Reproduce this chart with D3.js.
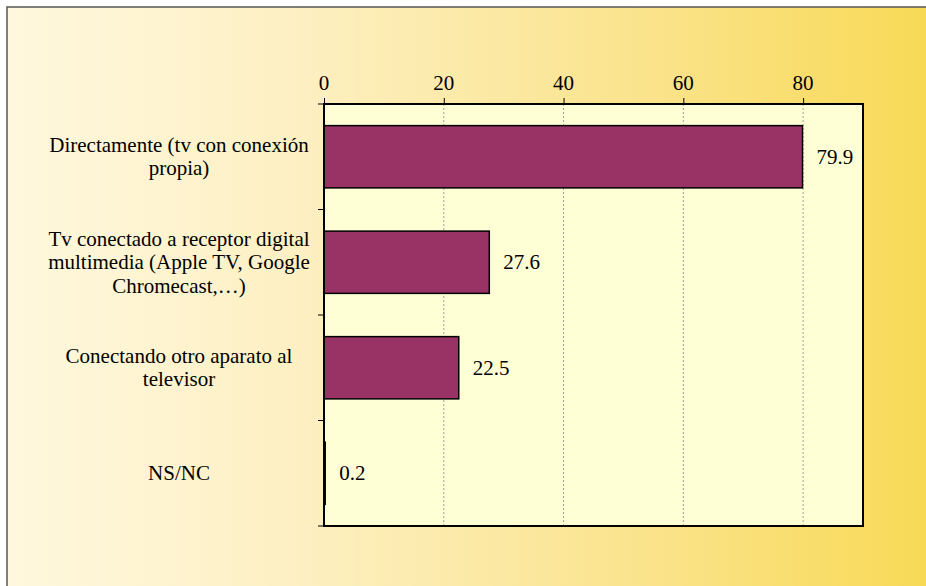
<!DOCTYPE html>
<html>
<head>
<meta charset="utf-8">
<script src="https://cdn.jsdelivr.net/npm/d3@7"></script>
</head>
<body style="margin:0">
<div id="chart"></div>
<script>
// Data
const categories = [
    ["Directamente (tv con conexión", "propia)"],
    ["Tv conectado a receptor digital", "multimedia (Apple TV, Google", "Chromecast,…)"],
    ["Conectando otro aparato al", "televisor"],
    ["NS/NC"]
];
const values = [79.9, 27.6, 22.5, 0.2];
const xTicks = [0, 20, 40, 60, 80];

const W = 926, H = 586;
const plot = { left: 324, top: 104, right: 863, bottom: 526 };
const fontFam = "Liberation Serif";

const svg = d3.select("#chart")
    .append("svg")
    .attr("width", W)
    .attr("height", H)
    .style("font-family", `"${fontFam}"`);

// Background gradient
const defs = svg.append("defs");
const grad = defs.append("linearGradient")
    .attr("id", "bg")
    .attr("x1", "0%").attr("x2", "100%")
    .attr("y1", "0%").attr("y2", "0%");
grad.append("stop").attr("offset", "0%").attr("stop-color", "#fff8de");
grad.append("stop").attr("offset", "30%").attr("stop-color", "#fdf0c4");
grad.append("stop").attr("offset", "70%").attr("stop-color", "#fae38a");
grad.append("stop").attr("offset", "100%").attr("stop-color", "#f8d955");

svg.append("rect")
    .attr("x", 7).attr("y", 7)
    .attr("width", W).attr("height", H)
    .attr("fill", "url(#bg)")
    .attr("stroke", "#555")
    .attr("stroke-width", 1.5);

// Scales
const x = d3.scaleLinear().domain([0, 90]).range([plot.left, plot.right]);
const y = d3.scaleBand()
    .domain(d3.range(values.length))
    .range([plot.top, plot.bottom])
    .paddingInner(0.41)
    .paddingOuter(0.205);

// Plot area
svg.append("rect")
    .attr("x", plot.left).attr("y", plot.top)
    .attr("width", plot.right - plot.left)
    .attr("height", plot.bottom - plot.top)
    .attr("fill", "#ffffd6");

// Gridlines
svg.append("g")
    .selectAll("line")
    .data(xTicks.filter(d => d > 0))
    .enter()
    .append("line")
    .attr("x1", d => x(d)).attr("x2", d => x(d))
    .attr("y1", plot.top).attr("y2", plot.bottom)
    .attr("stroke", "#a0a0a0")
    .attr("stroke-width", 1)
    .attr("stroke-dasharray", "2,2");

// Bars
svg.append("g")
    .selectAll("rect")
    .data(values)
    .enter()
    .append("rect")
    .attr("x", x(0))
    .attr("y", (d, i) => y(i))
    .attr("width", d => x(d) - x(0))
    .attr("height", y.bandwidth())
    .attr("fill", "#993366")
    .attr("stroke", "#000")
    .attr("stroke-width", 1.5);

// Frame
svg.append("rect")
    .attr("x", plot.left).attr("y", plot.top)
    .attr("width", plot.right - plot.left)
    .attr("height", plot.bottom - plot.top)
    .attr("fill", "none")
    .attr("stroke", "#000")
    .attr("stroke-width", 2);

// Top axis (ticks from the axis, labels drawn as plain text)
const xAxis = svg.append("g")
    .attr("transform", `translate(0, ${plot.top})`)
    .call(d3.axisTop(x).tickValues(xTicks).tickSize(6).tickFormat(""));
xAxis.select(".domain").remove();
xAxis.selectAll("line").attr("stroke", "#000");

svg.append("g")
    .selectAll("text")
    .data(xTicks)
    .enter()
    .append("text")
    .attr("x", d => x(d))
    .attr("y", plot.top - 14)
    .attr("text-anchor", "middle")
    .style("font-family", d => `"${fontFam}"`)
    .style("font-size", "21px")
    .text(d => d);

// Left ticks at band boundaries
const step = (plot.bottom - plot.top) / values.length;
svg.append("g")
    .selectAll("line")
    .data(d3.range(values.length + 1))
    .enter()
    .append("line")
    .attr("x1", plot.left - 6).attr("x2", plot.left)
    .attr("y1", d => plot.top + d * step)
    .attr("y2", d => plot.top + d * step)
    .attr("stroke", "#000");

// Category labels, one text per line
const lineH = 23.3;
const catLines = categories.flatMap((lines, i) => lines.map((t, j) => ({
    t, i, j, n: lines.length
})));
svg.append("g")
    .selectAll("text")
    .data(catLines)
    .enter()
    .append("text")
    .attr("x", 179)
    .attr("y", d => y(d.i) + y.bandwidth() / 2 - (d.n - 1) * lineH / 2 + 7 + d.j * lineH)
    .attr("text-anchor", "middle")
    .style("font-family", d => `"${fontFam}"`)
    .style("font-size", "21px")
    .text(d => d.t);

// Value labels
svg.append("g")
    .selectAll("text")
    .data(values)
    .enter()
    .append("text")
    .attr("x", d => x(d) + 14)
    .attr("y", (d, i) => y(i) + y.bandwidth() / 2 + 7)
    .style("font-family", d => `"${fontFam}"`)
    .style("font-size", "21px")
    .text(d => d.toFixed(1));
</script>
</body>
</html>
